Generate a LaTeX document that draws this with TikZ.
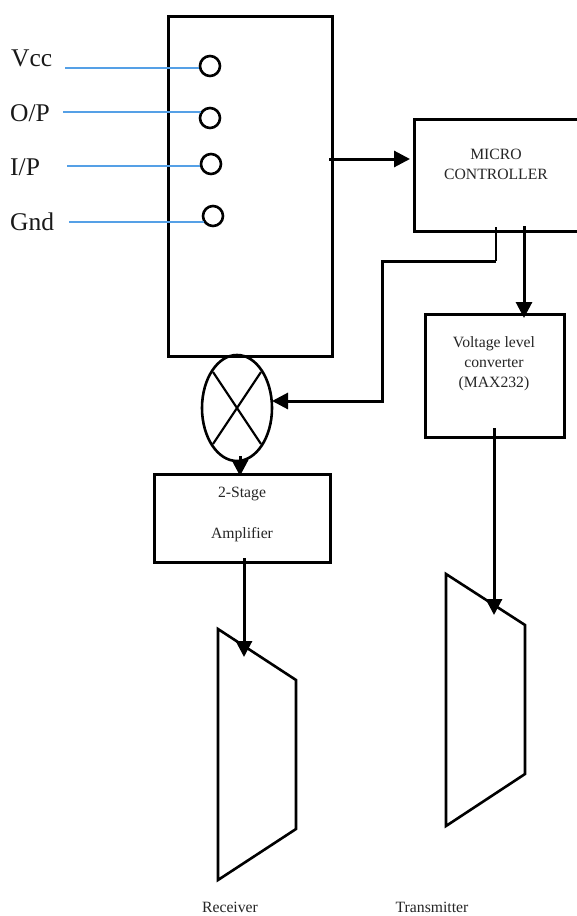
\documentclass[tikz,border=0pt]{standalone}
\usepackage{fontspec}
\setmainfont{Liberation Serif}
\usetikzlibrary{arrows.meta,shapes.geometric}
\tikzset{
  x=1pt,y=-1pt,
  blockbox/.style={draw,line width=3pt,inner sep=0pt,outer sep=0pt,anchor=north west,align=center},
  pinc/.style={circle,draw,line width=2.6pt,minimum size=20pt,inner sep=0pt},
  pinlabel/.style={font=\fontsize{25.5}{25.5}\selectfont,anchor=base west,inner sep=0pt,text=black!90},
  smalltext/.style={font=\fontsize{15.7}{20}\selectfont,align=center,text=black!85},
  pinline/.style={draw={rgb,255:red,85;green,160;blue,230},line width=1.1pt},
  conn/.style={line width=3pt,-{Triangle[length=16pt,width=16pt]}},
  thinconn/.style={line width=1.5pt},
  muxshape/.style={line width=2.6pt,line join=miter}
}
\begin{document}
\begin{tikzpicture}
\useasboundingbox (0,0) rectangle (576,916);
\path[fill=white] (0,0) rectangle (576,916);
\node[blockbox,minimum width=164pt,minimum height=340pt] (block) at (168,16) {};
\node[pinc] (p1) at (210,66) {};
\node[pinc] (p2) at (210,118) {};
\node[pinc] (p3) at (211,164) {};
\node[pinc] (p4) at (213,216) {};
\node[pinlabel] (l1) at (11,66) {Vcc};
\node[pinlabel] (l2) at (10,121) {O/P};
\node[pinlabel] (l3) at (10,175) {I/P};
\node[pinlabel] (l4) at (10,230) {Gnd};
\coordinate (s1) at (65,68);
\coordinate (s2) at (63,112);
\coordinate (s3) at (67,166);
\coordinate (s4) at (69,222);
\draw[pinline] (s1) -- (s1 -| p1.west);
\draw[pinline] (s2) -- (201,112);
\draw[pinline] (s3) -- (s3 -| p3.west);
\draw[pinline] (s4) -- (204,222);
\node[blockbox,minimum width=170pt,minimum height=112pt] (mc) at (414,119) {};
\node[smalltext] (mct) at (496,164) {MICRO\\CONTROLLER};
\node[blockbox,minimum width=139pt,minimum height=123pt] (vc) at (425,314) {};
\node[smalltext,anchor=north] (vct) at (494,333) {Voltage level\\converter\\(MAX232)};
\node[draw,ellipse,line width=2.6pt,minimum width=70pt,minimum height=106pt,inner sep=0pt] (mix) at (237,408) {};
\draw[line width=2.2pt] (213,372) -- (261,444) (261,372) -- (213,444);
\node[blockbox,minimum width=176pt,minimum height=88pt] (amp) at (154,474) {};
\node[smalltext] (ampt1) at (242,494) {2-Stage};
\node[smalltext] (ampt2) at (242,535) {Amplifier};
\draw[muxshape] (218,629) coordinate (ra) -- (296,680) -- (296,829) -- (218,880) -- cycle;
\draw[muxshape] (446,574) coordinate (ta) -- (525,625) -- (525,774) -- (446,826) -- cycle;
\node[font=\fontsize{15.7}{15.7}\selectfont,anchor=base,inner sep=0pt,text=black!85] (rx) at (230,912) {Receiver};
\node[font=\fontsize{15.7}{15.7}\selectfont,anchor=base,inner sep=0pt,text=black!85] (tx) at (432,912) {Transmitter};
\coordinate (b1) at (329,159);
\draw[conn] (b1) -- (410,159);
\coordinate (m1) at (496,227);
\coordinate (m2) at (496,261);
\coordinate (m3) at (382,261);
\coordinate (m4) at (382,401);
\draw[thinconn] (m1) -- (m2);
\draw[conn,line join=miter] (m2) -- (m3) -- (m4) -- (272,401);
\coordinate (m5) at (524,226);
\draw[conn] (m5) -- (524,318);
\coordinate (v1) at (494,428);
\draw[conn] (v1) -- (494,615);
\coordinate (e1) at (240,456);
\draw[conn] (e1) -- (240,476);
\coordinate (a1) at (244,558);
\draw[conn] (a1) -- (244,657);
\end{tikzpicture}
\end{document}
